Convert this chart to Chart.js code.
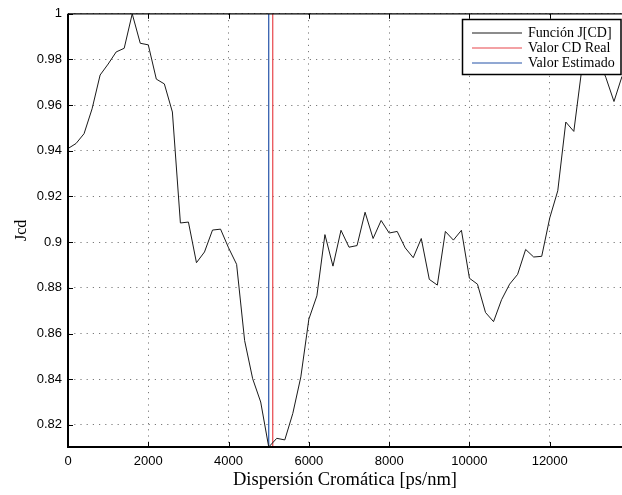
<!DOCTYPE html>
<html>
<head>
<meta charset="utf-8">
<script src="https://cdn.jsdelivr.net/npm/chart.js@4/dist/chart.umd.min.js"></script>
<style>
  body { margin: 0; background: #ffffff; }
  #grafico-jcd { display: block; }
</style>
</head>
<body>
<canvas id="grafico-jcd" width="622" height="495"></canvas>
<script>
// dispersión cromática barrida [ps/nm]
const dispersion = [
    0, 200, 400, 600, 800, 1000, 1200, 1400, 1600, 1800,
    2000, 2200, 2400, 2600, 2800, 3000, 3200, 3400, 3600, 3800,
    4000, 4200, 4400, 4600, 4800, 5000, 5200, 5400, 5600, 5800,
    6000, 6200, 6400, 6600, 6800, 7000, 7200, 7400, 7600, 7800,
    8000, 8200, 8400, 8600, 8800, 9000, 9200, 9400, 9600, 9800,
    10000, 10200, 10400, 10600, 10800, 11000, 11200, 11400, 11600, 11800,
    12000, 12200, 12400, 12600, 12800, 13000, 13200, 13400, 13600, 13800
];

// función de costo J[CD] normalizada
const jcd = [
    0.9410, 0.9432, 0.9475, 0.9584, 0.9732, 0.9780, 0.9833, 0.9849, 1.0000, 0.9871,
    0.9864, 0.9714, 0.9693, 0.9570, 0.9084, 0.9088, 0.8910, 0.8957, 0.9053, 0.9057,
    0.8975, 0.8903, 0.8569, 0.8402, 0.8300, 0.8103, 0.8141, 0.8134, 0.8250, 0.8410,
    0.8663, 0.8765, 0.9033, 0.8895, 0.9052, 0.8978, 0.8985, 0.9131, 0.9016, 0.9095,
    0.9040, 0.9047, 0.8975, 0.8932, 0.9016, 0.8837, 0.8812, 0.9047, 0.9009, 0.9052,
    0.8842, 0.8816, 0.8692, 0.8652, 0.8748, 0.8816, 0.8859, 0.8968, 0.8935, 0.8938,
    0.9106, 0.9225, 0.9526, 0.9485, 0.9760, 0.9850, 0.9810, 0.9720, 0.9616, 0.9726
];

const cdReal = 5100;
const cdEstimado = 5000;

const ejeX = [0, 13800];
const ejeY = [0.8103, 1];
const ticksX = [0, 2000, 4000, 6000, 8000, 10000, 12000];
const ticksY = [0.82, 0.84, 0.86, 0.88, 0.9, 0.92, 0.94, 0.96, 0.98, 1];

const puntosJ = dispersion.map(function (d, i) { return { x: d, y: jcd[i] }; });

//---------------------------- marco, ticks y leyenda estilo matlab ---------------

const marcoMatlab = {
    id: 'marcoMatlab',
    afterDraw: function (chart) {
        const ctx = chart.ctx;
        const area = chart.chartArea;
        const sx = chart.scales.x;
        const sy = chart.scales.y;

        ctx.save();
        ctx.strokeStyle = '#000000';

        // ticks hacia adentro
        ctx.lineWidth = 1;
        ctx.beginPath();
        sx.ticks.forEach(function (t) {
            const px = Math.round(sx.getPixelForValue(t.value)) + 0.5;
            ctx.moveTo(px, area.bottom);
            ctx.lineTo(px, area.bottom - 5);
            ctx.moveTo(px, area.top);
            ctx.lineTo(px, area.top + 5);
        });
        sy.ticks.forEach(function (t) {
            const py = Math.round(sy.getPixelForValue(t.value)) + 0.5;
            ctx.moveTo(area.left, py);
            ctx.lineTo(area.left + 5, py);
        });
        ctx.stroke();

        // bordes
        ctx.lineWidth = 1.3;
        ctx.beginPath();
        ctx.moveTo(area.left, area.top);
        ctx.lineTo(area.right, area.top);
        ctx.stroke();

        ctx.lineWidth = 2;
        ctx.beginPath();
        ctx.moveTo(area.left, area.top);
        ctx.lineTo(area.left, area.bottom);
        ctx.lineTo(area.right, area.bottom);
        ctx.stroke();

        // leyenda
        const bx = 462.5, by = 19.5, bw = 158.5, bh = 55;
        ctx.fillStyle = '#ffffff';
        ctx.fillRect(bx, by, bw, bh);
        ctx.lineWidth = 1.5;
        ctx.strokeRect(bx, by, bw, bh);

        ctx.font = '14px "Liberation Serif", "Times New Roman", serif';
        ctx.textBaseline = 'middle';
        ctx.textAlign = 'left';
        chart.data.datasets.forEach(function (ds, i) {
            const ly = 33 + i * 15;
            ctx.strokeStyle = ds.borderColor;
            ctx.lineWidth = 1.2;
            ctx.beginPath();
            ctx.moveTo(472, ly);
            ctx.lineTo(522, ly);
            ctx.stroke();
            ctx.fillStyle = '#000000';
            ctx.fillText(ds.label, 528, ly);
        });

        ctx.restore();
    }
};

//---------------------------- gráfico J[CD] ---------------

const data = {
    datasets: [{
        label: 'Función J[CD]',
        data: puntosJ,
        borderColor: '#1a1a1a',
        borderWidth: 1,
        pointRadius: 0,
        tension: 0
    }, {
        label: 'Valor CD Real',
        data: [{ x: cdReal, y: ejeY[0] }, { x: cdReal, y: ejeY[1] }],
        borderColor: '#e8454a',
        borderWidth: 1.2,
        pointRadius: 0
    }, {
        label: 'Valor Estimado',
        data: [{ x: cdEstimado, y: ejeY[0] }, { x: cdEstimado, y: ejeY[1] }],
        borderColor: '#2553a8',
        borderWidth: 1.2,
        pointRadius: 0
    }]
};

const fuenteTicks = {
    family: '"Liberation Sans", Arial, sans-serif',
    size: 13
};

const config = {
    type: 'line',
    data: data,
    plugins: [marcoMatlab],
    options: {
        responsive: false,
        animation: false,
        layout: {
            padding: { top: 11, right: 0, bottom: 0, left: 0 }
        },
        plugins: {
            legend: { display: false },
            tooltip: { enabled: false }
        },
        scales: {
            x: {
                type: 'linear',
                min: ejeX[0],
                max: ejeX[1],
                afterBuildTicks: function (scale) {
                    scale.ticks = ticksX.map(function (v) { return { value: v }; });
                },
                afterFit: function (scale) { scale.height = 48; },
                ticks: {
                    autoSkip: false,
                    color: '#000000',
                    font: fuenteTicks,
                    padding: 7,
                    maxRotation: 0,
                    callback: function (v) { return String(v); }
                },
                grid: {
                    color: '#7a7a7a',
                    lineWidth: 1,
                    drawTicks: false
                },
                border: { display: false, dash: [1.2, 5] },
                title: {
                    display: true,
                    text: 'Dispersión Cromática [ps/nm]',
                    color: '#000000',
                    font: { family: '"Liberation Serif", "Times New Roman", serif', size: 18.5 },
                    padding: { top: 0, bottom: 4 }
                }
            },
            y: {
                type: 'linear',
                min: ejeY[0],
                max: ejeY[1],
                afterBuildTicks: function (scale) {
                    scale.ticks = ticksY.map(function (v) { return { value: v }; });
                },
                afterFit: function (scale) { scale.width = 68; },
                ticks: {
                    autoSkip: false,
                    color: '#000000',
                    font: fuenteTicks,
                    padding: 6,
                    callback: function (v) { return String(Number(v.toFixed(2))); }
                },
                grid: {
                    color: '#7a7a7a',
                    lineWidth: 1,
                    drawTicks: false
                },
                border: { display: false, dash: [1.2, 5] },
                title: {
                    display: true,
                    text: 'Jcd',
                    color: '#000000',
                    font: { family: '"Liberation Serif", "Times New Roman", serif', size: 16 },
                    padding: { top: 12, bottom: 0 }
                }
            }
        }
    }
};

const graficoJcd = new Chart(
    document.getElementById('grafico-jcd'),
    config
);
</script>
</body>
</html>
